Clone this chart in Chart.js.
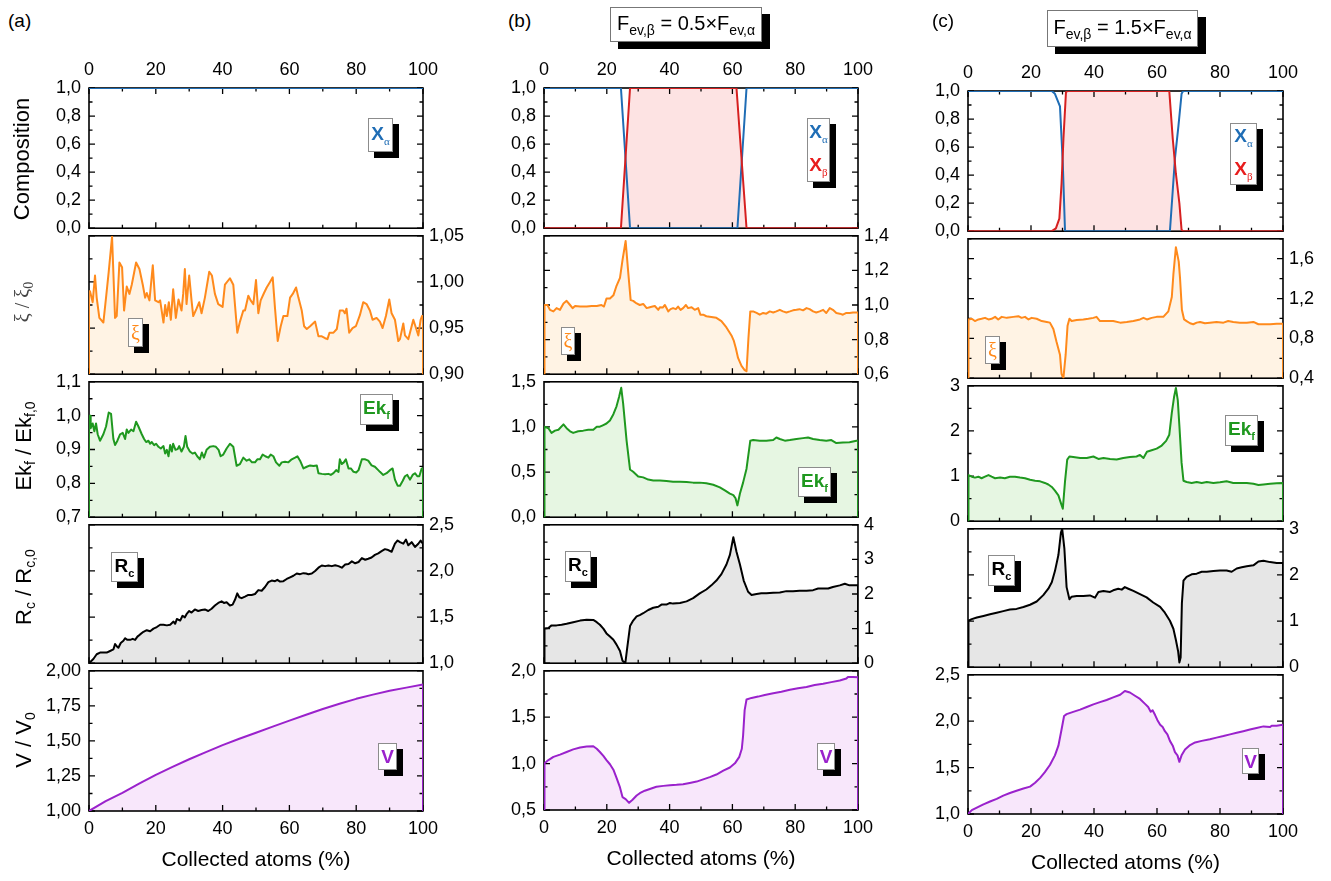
<!DOCTYPE html>
<html>
<head>
<meta charset="utf-8">
<script src="https://cdn.jsdelivr.net/npm/chart.js@4.4.1/dist/chart.umd.min.js"></script>
<style>
  body { margin: 0; background: #fff; width: 1331px; height: 881px; position: relative; overflow: hidden;
         font-family: "Liberation Sans", Arial, sans-serif; color: #000; }
  canvas { position: absolute; }
  .pl { position: absolute; font-size: 19px; line-height: 1; }
  .yt { position: absolute; transform: translate(-50%, -50%) rotate(-90deg); white-space: nowrap; font-size: 22px; line-height: 1; }
  .yt sub { font-size: 14px; vertical-align: -4px; }
  .tb { position: absolute; background: #fff; border: 1px solid #777; box-shadow: 8px 7px 0 #000; box-sizing: border-box;
        font-size: 20px; display: flex; align-items: center; justify-content: center; white-space: nowrap; }
  .tb sub { font-size: 14px; vertical-align: -5px; line-height: 1; }
  .lg { position: absolute; background: #fff; border: 1px solid #8c8c8c; box-shadow: 6px 6px 0 #000; box-sizing: border-box;
        font-weight: bold; font-size: 19px; line-height: 1; display: flex; flex-direction: column;
        align-items: center; justify-content: center; }
  .lg sub { font-size: 11px; vertical-align: -5px; }
  .lg .gr { font-weight: normal; font-family: "Liberation Serif", serif; }
</style>
</head>
<body>
<script>
// ---------- data ----------
// column (a)
const xAlphaA = [[0,1],[100,1]];
const xiA = [[0.3,0.990],[1.1,0.978],[1.8,1.007],[2.3,0.983],[3.1,0.961],[4.3,0.956],[5.1,0.983],[5.9,1.011],[6.9,1.049],[7.8,0.961],[8.3,0.963],[9.1,1.021],[9.9,1.016],[10.5,0.969],[11.3,0.995],[12.1,0.987],[12.8,0.997],[14.1,1.021],[15.1,1.014],[16.1,0.997],[16.8,0.983],[17.3,0.988],[18.1,0.980],[19.1,1.018],[19.8,0.980],[20.8,0.978],[21.3,0.980],[22.3,0.956],[22.8,0.975],[23.3,0.963],[23.9,0.978],[24.5,0.959],[25.2,0.992],[26.0,0.961],[26.8,0.981],[27.7,0.969],[28.2,0.987],[28.7,1.014],[29.2,0.976],[30.0,1.007],[30.7,0.980],[31.2,0.963],[32.2,0.971],[33.0,0.978],[33.7,0.966],[34.7,0.983],[36.0,1.011],[36.8,1.007],[37.7,0.987],[38.7,0.976],[40.0,0.973],[40.7,0.997],[42.2,1.004],[43.2,0.997],[44.4,0.945],[45.2,0.957],[46.2,0.969],[46.7,0.969],[47.7,0.985],[48.4,0.980],[49.2,0.976],[50.0,1.002],[50.7,0.966],[51.4,0.980],[52.4,0.988],[53.2,0.994],[54.2,1.000],[55.0,1.005],[55.7,0.971],[56.5,0.936],[57.4,0.952],[58.2,0.963],[59.4,0.963],[60.2,0.983],[61.0,0.987],[62.0,0.994],[62.7,0.983],[63.7,0.969],[64.4,0.952],[65.2,0.949],[66.2,0.952],[67.7,0.957],[68.7,0.941],[69.7,0.941],[70.7,0.939],[71.4,0.938],[72.0,0.945],[73.2,0.945],[74.2,0.949],[75.1,0.969],[76.1,0.969],[76.6,0.966],[77.1,0.971],[77.9,0.945],[78.9,0.950],[79.9,0.952],[81.1,0.964],[82.1,0.978],[83.1,0.976],[84.1,0.969],[84.9,0.959],[86.1,0.961],[87.1,0.957],[87.9,0.950],[88.9,0.963],[89.9,0.981],[90.6,0.966],[91.6,0.959],[92.6,0.936],[93.1,0.938],[94.1,0.955],[94.6,0.942],[95.6,0.938],[97.1,0.959],[97.9,0.950],[98.6,0.942],[99.3,0.959],[99.7,0.963]];
const ekA = [[0.3,1.000],[0.5,0.963],[1.1,0.977],[1.6,0.954],[2.1,0.977],[2.6,0.945],[3.3,0.926],[4.3,0.945],[5.1,0.968],[5.9,1.009],[6.6,1.005],[7.3,0.931],[7.8,0.913],[8.5,0.926],[9.3,0.945],[10.1,0.949],[10.8,0.931],[11.3,0.959],[11.8,0.949],[12.6,0.959],[13.3,0.954],[14.1,0.982],[14.8,0.968],[15.8,0.945],[16.5,0.931],[17.1,0.922],[17.8,0.926],[18.3,0.917],[18.8,0.922],[19.5,0.913],[20.1,0.917],[20.8,0.908],[21.5,0.903],[22.3,0.910],[22.8,0.888],[23.3,0.899],[23.8,0.880],[24.3,0.913],[24.8,0.894],[25.2,0.917],[25.9,0.899],[26.5,0.901],[27.0,0.910],[27.7,0.894],[28.4,0.908],[28.9,0.940],[29.4,0.908],[30.2,0.894],[31.0,0.888],[31.7,0.891],[32.4,0.880],[33.2,0.871],[33.8,0.891],[34.4,0.876],[35.2,0.899],[36.2,0.908],[37.2,0.910],[38.0,0.908],[38.8,0.899],[39.4,0.880],[40.2,0.885],[41.2,0.903],[42.2,0.917],[43.2,0.908],[44.2,0.852],[45.2,0.857],[46.2,0.876],[47.2,0.867],[48.0,0.871],[48.8,0.862],[49.7,0.862],[50.4,0.871],[51.2,0.871],[52.0,0.885],[52.8,0.880],[53.7,0.876],[54.4,0.885],[55.2,0.880],[56.0,0.862],[57.0,0.852],[57.7,0.862],[58.7,0.864],[59.7,0.862],[60.7,0.871],[61.7,0.876],[62.4,0.880],[63.2,0.867],[64.2,0.844],[65.2,0.849],[66.2,0.853],[67.2,0.851],[68.2,0.853],[68.7,0.830],[69.7,0.828],[70.7,0.827],[71.7,0.828],[72.4,0.825],[73.2,0.830],[74.0,0.839],[74.7,0.834],[75.1,0.871],[75.7,0.857],[76.3,0.862],[76.9,0.871],[77.7,0.844],[78.4,0.844],[79.2,0.834],[80.0,0.832],[80.7,0.839],[81.7,0.871],[82.7,0.871],[83.6,0.867],[84.6,0.853],[85.6,0.849],[86.6,0.839],[87.1,0.834],[88.1,0.825],[89.1,0.830],[90.1,0.839],[90.9,0.844],[91.6,0.811],[92.4,0.793],[93.1,0.793],[93.9,0.807],[94.6,0.821],[95.3,0.825],[96.1,0.811],[96.9,0.825],[97.6,0.830],[98.3,0.821],[98.9,0.821],[99.6,0.844]];
const rcA = [[0.3,1.010],[1.3,1.045],[2.3,1.097],[3.3,1.115],[5.3,1.115],[6.3,1.132],[7.3,1.149],[7.8,1.208],[8.3,1.184],[8.8,1.167],[9.5,1.219],[10.3,1.243],[10.8,1.271],[11.5,1.253],[12.3,1.253],[13.1,1.264],[13.8,1.253],[14.5,1.288],[15.3,1.312],[16.3,1.340],[17.3,1.358],[18.3,1.347],[19.3,1.375],[20.3,1.392],[21.3,1.417],[22.3,1.417],[23.3,1.410],[24.3,1.417],[25.3,1.451],[25.8,1.427],[26.3,1.479],[27.3,1.462],[28.0,1.514],[28.7,1.497],[29.2,1.531],[30.0,1.566],[30.7,1.549],[31.7,1.583],[32.7,1.566],[33.7,1.576],[34.7,1.583],[35.7,1.566],[36.7,1.590],[37.7,1.625],[38.7,1.653],[39.7,1.670],[40.4,1.653],[41.2,1.660],[42.2,1.625],[43.0,1.635],[43.7,1.687],[44.4,1.757],[45.0,1.715],[45.7,1.705],[46.7,1.722],[47.7,1.740],[48.7,1.740],[49.7,1.750],[50.7,1.792],[51.7,1.785],[52.7,1.826],[53.7,1.878],[54.7,1.896],[55.7,1.889],[56.4,1.903],[57.2,1.885],[58.2,1.889],[59.2,1.913],[60.2,1.931],[61.2,1.948],[62.2,1.972],[63.2,1.965],[64.2,1.976],[65.0,1.972],[65.7,1.965],[66.7,1.972],[67.7,2.000],[68.7,2.035],[69.7,2.059],[70.7,2.052],[71.7,2.059],[72.7,2.052],[73.7,2.062],[74.7,2.052],[75.7,2.035],[76.7,2.069],[77.7,2.076],[78.7,2.104],[79.7,2.083],[80.7,2.097],[81.7,2.139],[82.7,2.121],[83.6,2.132],[84.6,2.146],[85.6,2.174],[86.6,2.191],[87.6,2.215],[88.6,2.236],[89.6,2.226],[90.6,2.208],[91.6,2.295],[92.4,2.330],[93.1,2.312],[94.1,2.295],[94.9,2.340],[95.6,2.278],[96.6,2.312],[97.6,2.260],[98.6,2.295],[99.3,2.330],[99.7,2.306]];
const vA = [[0,1.000],[5,1.070],[10,1.130],[15,1.195],[20,1.258],[25,1.315],[30,1.369],[35,1.420],[40,1.470],[45,1.515],[50,1.558],[55,1.602],[60,1.645],[65,1.687],[70,1.728],[75,1.765],[80,1.800],[85,1.830],[90,1.857],[95,1.880],[100,1.903]];

// column (b)
const xAlphaB = [[0,1],[24.5,1],[27.4,0],[61.6,0],[64.5,1],[100,1]];
const xBetaB = [[0,0],[24.5,0],[27.4,1],[61.3,1],[64.5,0],[100,0]];
const xiB = [[0.3,1.000],[1.1,1.000],[1.9,0.972],[3.0,0.963],[4.0,0.982],[5.1,0.972],[6.2,1.009],[7.2,1.024],[8.3,1.000],[9.1,0.982],[9.9,0.994],[11.5,0.991],[13.6,0.991],[15.2,0.994],[16.8,0.994],[18.3,1.000],[19.1,0.991],[19.9,1.037],[21.0,1.037],[22.1,1.056],[23.1,1.111],[24.2,1.157],[25.0,1.259],[26.0,1.370],[26.8,1.194],[27.6,1.028],[28.4,1.024],[29.5,1.009],[30.5,1.000],[31.6,1.006],[32.7,0.982],[33.7,0.987],[34.6,0.991],[35.3,0.994],[36.4,0.972],[36.9,0.987],[37.8,0.985],[38.5,1.000],[39.6,0.963],[40.3,0.976],[41.1,0.982],[42.0,0.976],[42.7,0.991],[43.5,0.972],[44.3,0.982],[45.2,1.000],[45.9,0.982],[47.0,0.987],[48.0,0.972],[49.1,0.982],[49.8,0.944],[50.7,0.944],[51.7,0.935],[53.3,0.931],[54.9,0.926],[56.5,0.907],[58.1,0.870],[59.7,0.824],[60.4,0.796],[61.1,0.750],[61.8,0.694],[62.9,0.648],[63.9,0.624],[64.5,0.617],[65.1,0.806],[65.7,0.963],[66.6,0.963],[67.7,0.954],[68.7,0.944],[69.8,0.954],[70.8,0.950],[71.9,0.963],[73.0,0.957],[74.0,0.963],[75.1,0.972],[76.1,0.963],[77.2,0.957],[78.3,0.963],[79.3,0.969],[80.4,0.972],[81.4,0.976],[82.5,0.969],[83.6,0.982],[84.6,0.976],[85.7,0.963],[86.7,0.957],[87.8,0.963],[88.9,0.972],[89.9,0.954],[91.0,0.982],[92.0,0.972],[93.1,0.954],[94.2,0.950],[95.2,0.944],[96.3,0.954],[97.3,0.954],[98.4,0.957],[100,0.957]];
const ekB = [[0.3,1.003],[1.4,0.986],[2.4,0.934],[3.5,0.959],[4.6,0.969],[6.2,1.028],[7.2,0.986],[8.3,0.952],[9.3,0.934],[10.9,0.952],[12.5,0.959],[14.1,0.969],[15.7,0.969],[16.8,1.003],[17.8,1.003],[18.9,1.021],[19.9,1.038],[21.0,1.072],[22.1,1.141],[23.1,1.228],[23.9,1.331],[24.6,1.434],[25.2,1.262],[26.3,0.848],[27.4,0.528],[28.4,0.503],[30.0,0.452],[31.6,0.441],[33.2,0.417],[34.8,0.407],[36.9,0.407],[39.0,0.400],[41.1,0.393],[43.3,0.393],[45.4,0.390],[47.5,0.383],[49.6,0.383],[51.7,0.376],[53.9,0.359],[56.0,0.331],[57.6,0.297],[59.2,0.262],[60.3,0.245],[61.0,0.210],[61.6,0.131],[62.4,0.262],[63.4,0.383],[64.5,0.538],[65.7,0.848],[66.6,0.855],[68.7,0.848],[70.8,0.848],[73.0,0.855],[74.0,0.883],[75.1,0.866],[76.7,0.848],[78.3,0.855],[80.4,0.866],[82.5,0.876],[84.1,0.883],[85.7,0.866],[87.8,0.855],[89.9,0.848],[91.5,0.855],[93.1,0.821],[95.2,0.828],[97.3,0.831],[99.5,0.848]];
const rcB = [[0.3,1.000],[1.4,1.019],[2.4,1.093],[4.0,1.093],[5.6,1.111],[7.2,1.139],[9.3,1.185],[11.5,1.231],[13.6,1.259],[15.7,1.250],[16.8,1.185],[17.8,1.111],[18.9,1.000],[19.9,0.861],[21.0,0.769],[22.1,0.676],[23.1,0.537],[24.2,0.352],[25.0,0.074],[25.9,0.000],[26.5,0.444],[27.4,1.074],[28.4,1.231],[29.5,1.352],[30.5,1.389],[31.6,1.444],[33.2,1.537],[34.8,1.602],[36.4,1.630],[37.4,1.694],[39.0,1.694],[40.1,1.741],[41.1,1.722],[43.3,1.741],[45.4,1.787],[47.5,1.880],[49.6,2.019],[51.7,2.130],[53.3,2.250],[54.9,2.389],[56.5,2.574],[58.1,2.852],[59.2,3.130],[60.3,3.639],[61.3,3.222],[62.4,2.852],[63.6,2.389],[65.0,2.065],[66.1,1.972],[67.7,2.000],[69.2,2.019],[70.8,2.019],[73.0,2.037],[75.1,2.046],[77.2,2.083],[79.3,2.083],[81.4,2.093],[83.6,2.093],[85.7,2.111],[87.3,2.157],[88.9,2.157],[90.5,2.157],[92.0,2.204],[94.2,2.250],[95.8,2.296],[97.3,2.250],[100,2.250]];
const vB = [[0.3,1.003],[1.4,1.038],[3.0,1.073],[5.1,1.097],[7.2,1.125],[9.3,1.153],[11.5,1.174],[13.6,1.184],[15.7,1.187],[16.8,1.160],[17.8,1.125],[18.9,1.083],[19.9,1.038],[21.0,0.993],[22.1,0.934],[23.1,0.847],[24.2,0.743],[25.0,0.639],[26.0,0.618],[27.1,0.577],[28.2,0.611],[29.5,0.656],[30.5,0.681],[32.1,0.708],[33.7,0.726],[35.8,0.750],[38.0,0.760],[40.1,0.767],[42.2,0.771],[44.3,0.778],[46.4,0.792],[48.6,0.806],[50.7,0.830],[52.8,0.854],[54.9,0.882],[57.1,0.924],[59.2,0.958],[60.8,1.003],[62.2,1.073],[63.0,1.160],[63.4,1.299],[63.9,1.576],[64.5,1.691],[66.1,1.708],[68.2,1.722],[70.3,1.740],[73.0,1.757],[75.6,1.774],[78.3,1.795],[80.9,1.813],[83.6,1.826],[86.2,1.847],[88.9,1.861],[91.5,1.878],[94.2,1.896],[96.3,1.917],[96.8,1.934],[98.4,1.934],[100,1.931]];

// column (c)
const xAlphaC = [[0,1],[26.6,1],[27.6,0.98],[29.2,0.89],[30.1,0.48],[30.8,0],[64.1,0],[65.0,0.29],[65.7,0.52],[66.8,0.75],[67.8,0.98],[68.3,1],[100,1]];
const xBetaC = [[0,0],[26.6,0],[27.9,0.02],[29.0,0.09],[29.7,0.34],[30.3,0.66],[31.1,0.99],[31.5,1],[63.9,1],[65.0,0.66],[66.0,0.41],[67.1,0.20],[67.8,0.01],[68.3,0],[100,0]];
const xiC = [[0.3,0.990],[1.2,0.997],[2.2,0.974],[3.3,0.990],[4.3,0.997],[5.4,1.006],[6.5,0.990],[7.5,0.997],[8.6,1.016],[9.6,0.990],[10.7,1.016],[12.3,1.006],[14.4,1.016],[16.0,1.023],[17.0,1.006],[18.1,1.016],[19.2,0.990],[20.2,1.006],[21.8,0.997],[23.4,0.974],[25.0,0.965],[26.0,0.958],[27.1,0.894],[28.1,0.765],[29.2,0.636],[29.7,0.442],[30.3,0.403],[31.0,0.636],[31.6,0.926],[32.2,0.997],[32.9,0.974],[34.5,0.984],[36.6,0.990],[38.2,0.997],[39.8,1.006],[40.8,1.016],[41.9,0.974],[44.0,0.974],[46.1,0.974],[48.3,0.958],[50.4,0.965],[52.5,0.974],[54.6,0.990],[55.7,1.006],[56.8,0.990],[58.3,1.006],[59.9,1.016],[62.0,1.016],[63.6,1.071],[64.7,1.216],[65.2,1.442],[66.0,1.716],[66.9,1.571],[67.3,1.410],[67.9,1.087],[68.6,0.990],[69.4,0.974],[70.5,0.952],[71.5,0.942],[72.6,0.958],[73.7,0.965],[75.2,0.952],[76.8,0.958],[78.9,0.965],[81.1,0.958],[82.6,0.974],[84.2,0.965],[86.3,0.958],[88.5,0.958],[90.6,0.965],[92.2,0.942],[93.8,0.942],[95.9,0.942],[98.0,0.948],[99.9,0.948]];
const ekC = [[0.3,1.021],[1.2,0.986],[2.2,0.966],[3.3,0.986],[4.3,0.952],[5.4,0.986],[6.5,1.021],[7.5,0.986],[8.6,0.952],[10.2,0.966],[11.7,0.952],[13.3,0.986],[14.9,0.986],[16.5,0.966],[18.1,0.952],[19.7,0.917],[21.3,0.897],[22.9,0.883],[24.4,0.848],[25.5,0.814],[26.6,0.759],[27.6,0.676],[28.7,0.572],[29.5,0.400],[30.1,0.276],[30.8,0.883],[31.5,1.366],[32.2,1.434],[33.4,1.421],[35.6,1.400],[37.7,1.400],[39.8,1.434],[41.4,1.379],[43.0,1.400],[45.1,1.379],[47.2,1.366],[49.3,1.400],[51.4,1.421],[53.5,1.434],[54.6,1.469],[55.7,1.400],[56.8,1.538],[58.3,1.572],[59.9,1.607],[61.5,1.676],[62.9,1.779],[63.9,1.917],[64.7,2.400],[65.4,2.745],[66.0,2.952],[66.6,2.676],[67.1,2.124],[67.8,1.297],[68.4,0.897],[69.4,0.869],[71.0,0.848],[72.6,0.869],[74.2,0.848],[75.8,0.869],[77.9,0.848],[80.0,0.862],[82.1,0.883],[84.2,0.848],[86.3,0.848],[88.5,0.848],[90.6,0.828],[92.2,0.800],[93.8,0.814],[95.9,0.828],[98.0,0.841],[99.9,0.848]];
const rcC = [[0.3,1.007],[1.2,1.042],[2.8,1.076],[4.9,1.111],[7.0,1.146],[9.1,1.181],[11.2,1.215],[13.3,1.250],[15.4,1.264],[17.6,1.306],[19.7,1.354],[21.8,1.424],[23.9,1.562],[25.5,1.701],[26.6,1.840],[27.6,2.083],[28.7,2.431],[29.5,2.917],[29.9,3.000],[30.6,2.569],[31.3,1.736],[32.2,1.472],[32.9,1.528],[34.5,1.542],[36.6,1.542],[38.7,1.556],[40.3,1.507],[41.4,1.632],[43.0,1.653],[45.1,1.632],[46.1,1.667],[47.7,1.701],[48.8,1.681],[49.8,1.736],[50.9,1.701],[52.5,1.653],[54.6,1.583],[56.7,1.514],[58.8,1.403],[61.0,1.306],[62.5,1.181],[64.1,1.007],[65.2,0.833],[66.0,0.590],[66.7,0.347],[67.1,0.104],[67.5,0.208],[67.9,1.389],[68.4,1.875],[69.4,1.958],[71.0,2.014],[72.6,2.028],[74.2,2.069],[75.8,2.069],[77.9,2.083],[80.0,2.097],[82.1,2.097],[83.7,2.069],[85.3,2.139],[86.9,2.167],[88.5,2.188],[90.6,2.208],[92.2,2.292],[93.8,2.306],[95.9,2.278],[98.0,2.257],[99.9,2.257]];
const vC = [[0,1.000],[1.2,1.042],[2.8,1.069],[4.9,1.104],[7.0,1.135],[9.1,1.163],[11.2,1.198],[13.3,1.226],[15.4,1.250],[17.6,1.274],[19.7,1.295],[21.3,1.337],[22.9,1.389],[24.4,1.451],[26.0,1.528],[27.6,1.632],[28.7,1.736],[29.7,1.910],[30.5,2.056],[31.3,2.076],[33.4,2.101],[35.6,2.125],[37.7,2.153],[39.8,2.181],[41.9,2.205],[44.0,2.229],[46.1,2.257],[48.3,2.285],[49.8,2.326],[51.4,2.309],[53.0,2.274],[54.6,2.240],[56.2,2.187],[57.2,2.153],[58.0,2.101],[58.6,2.118],[59.4,2.066],[60.1,2.014],[61.0,1.962],[61.8,1.937],[62.5,1.892],[63.3,1.858],[64.1,1.788],[65.0,1.736],[65.7,1.667],[66.5,1.632],[67.1,1.562],[67.8,1.632],[68.9,1.694],[70.5,1.743],[72.1,1.771],[74.2,1.788],[76.8,1.806],[78.9,1.823],[81.1,1.840],[83.2,1.858],[85.3,1.875],[87.4,1.892],[89.5,1.910],[91.6,1.927],[93.8,1.944],[95.9,1.937],[96.4,1.951],[98.0,1.951],[99.9,1.962]];

// y axes of each panel (top to bottom), per column
const compAxis = {min: 0, max: 1, major: 0.2, minor: 0.1, side: 'left', dec: 1};
const axesA = [compAxis,
  {min: 0.9, max: 1.05, major: 0.05, minor: 0.025, side: 'right', dec: 2},
  {min: 0.7, max: 1.1, major: 0.1, minor: 0.05, side: 'left', dec: 1},
  {min: 1.0, max: 2.5, major: 0.5, minor: 0.25, side: 'right', dec: 1},
  {min: 1.0, max: 2.0, major: 0.25, minor: 0.125, side: 'left', dec: 2}];
const axesB = [compAxis,
  {min: 0.6, max: 1.4, major: 0.2, minor: 0.1, side: 'right', dec: 1},
  {min: 0, max: 1.5, major: 0.5, minor: 0.25, side: 'left', dec: 1},
  {min: 0, max: 4, major: 1, minor: 0.5, side: 'right', dec: 0},
  {min: 0.5, max: 2.0, major: 0.5, minor: 0.25, side: 'left', dec: 1}];
const axesC = [compAxis,
  {min: 0.4, max: 1.8, major: 0.4, minor: 0.2, side: 'right', dec: 1},
  {min: 0, max: 3, major: 1, minor: 0.5, side: 'left', dec: 0},
  {min: 0, max: 3, major: 1, minor: 0.5, side: 'right', dec: 0},
  {min: 1.0, max: 2.5, major: 0.5, minor: 0.25, side: 'left', dec: 1}];

const BLUE = '#1f6db5', RED = '#d62020', ORANGE = '#ff8a1c', GREEN = '#1f981f', BLACK = '#000', PURPLE = '#9a22cc';
const PINK_F = '#fde3e3', ORANGE_F = '#fff3e4', GREEN_F = '#e6f6e2', GRAY_F = '#e6e6e6', PURPLE_F = '#f8e7fb';

const seriesA = [
  [{d: xAlphaA, c: BLUE}],
  [{d: xiA, c: ORANGE, f: ORANGE_F, edge: true}],
  [{d: ekA, c: GREEN, f: GREEN_F, edge: true}],
  [{d: rcA, c: BLACK, f: GRAY_F, edge: true}],
  [{d: vA, c: PURPLE, f: PURPLE_F, edge: true}]];
const seriesB = [
  [{d: xBetaB, c: RED, f: PINK_F}, {d: xAlphaB, c: BLUE}],
  [{d: xiB, c: ORANGE, f: ORANGE_F, edge: true}],
  [{d: ekB, c: GREEN, f: GREEN_F, edge: true}],
  [{d: rcB, c: BLACK, f: GRAY_F, edge: true}],
  [{d: vB, c: PURPLE, f: PURPLE_F, edge: true}]];
const seriesC = [
  [{d: xBetaC, c: RED, f: PINK_F}, {d: xAlphaC, c: BLUE}],
  [{d: xiC, c: ORANGE, f: ORANGE_F, edge: true}],
  [{d: ekC, c: GREEN, f: GREEN_F, edge: true}],
  [{d: rcC, c: BLACK, f: GRAY_F, edge: true}],
  [{d: vC, c: PURPLE, f: PURPLE_F, edge: true}]];

// plot boxes of the three columns (left, width, panel edges top to bottom)
const columns = [
  {left: 89, width: 334, edges: [88, 233, 377, 522, 666, 811], axes: axesA, series: seriesA},
  {left: 544, width: 314, edges: [88, 233, 377, 522, 666, 810], axes: axesB, series: seriesB},
  {left: 968, width: 315, edges: [91, 236, 381, 526, 670, 814], axes: axesC, series: seriesC}
];

const FONT = '"Liberation Sans", Arial, sans-serif';
const LEFT_W = 89, RIGHT_W = 60;

// frame + inward ticks on every side, drawn over the fills but under the lines
function frameTicks(ax, topTicks) {
  return {
    id: 'frameTicks',
    beforeDatasetsDraw(chart) {
      const {ctx, chartArea: a} = chart;
      const x = chart.scales.x, y = chart.scales.y;
      ctx.save();
      ctx.strokeStyle = '#000';
      ctx.lineWidth = 1.6;
      ctx.strokeRect(a.left, a.top, a.right - a.left, a.bottom - a.top);
      ctx.lineWidth = 1.3;
      ctx.beginPath();
      for (let v = 0; v <= 100; v += 10) {
        const px = x.getPixelForValue(v);
        const len = v % 20 === 0 ? 6 : 3.5;
        ctx.moveTo(px, a.bottom); ctx.lineTo(px, a.bottom - len);
        if (topTicks) { ctx.moveTo(px, a.top); ctx.lineTo(px, a.top + len); }
      }
      const n = Math.round((ax.max - ax.min) / ax.minor);
      for (let i = 0; i <= n; i++) {
        const py = y.getPixelForValue(ax.min + i * ax.minor);
        const len = i % 2 === 0 ? 6 : 3.5;
        ctx.moveTo(a.left, py); ctx.lineTo(a.left + len, py);
        ctx.moveTo(a.right, py); ctx.lineTo(a.right - len, py);
      }
      ctx.stroke();
      ctx.restore();
    }
  };
}

function toPoints(s, ax) {
  let pts = s.d;
  if (s.edge) {
    // the curves are closed down to the axis at both ends, as in the original
    pts = [[0, ax.min], [0, pts[0][1]], ...pts, [100, pts[pts.length - 1][1]], [100, ax.min]];
  }
  return pts.map(p => ({x: p[0], y: p[1]}));
}

columns.forEach(col => {
  for (let r = 0; r < 5; r++) {
    const ax = col.axes[r];
    const top = col.edges[r], bottom = col.edges[r + 1];
    const padT = r === 0 ? 45 : 14, padB = r === 4 ? 70 : 14;
    const showX = r === 0 || r === 4;
    const cv = document.createElement('canvas');
    cv.width = LEFT_W + col.width + RIGHT_W;
    cv.height = padT + (bottom - top) + padB;
    cv.style.left = (col.left - LEFT_W) + 'px';
    cv.style.top = (top - padT) + 'px';
    document.body.appendChild(cv);

    const majors = [];
    for (let v = ax.min; v <= ax.max + 1e-9; v += ax.major) majors.push(+v.toFixed(4));

    const datasets = col.series[r].map(s => ({
      data: toPoints(s, ax),
      borderColor: s.c,
      borderWidth: 2,
      borderJoinStyle: 'round',
      backgroundColor: s.f || 'transparent',
      fill: s.f ? 'start' : false,
      pointRadius: 0,
      tension: 0
    }));

    new Chart(cv.getContext('2d'), {
      type: 'line',
      data: {datasets},
      options: {
        responsive: false,
        animation: false,
        devicePixelRatio: 1,
        events: [],
        layout: {padding: {
          top: r === 0 ? 0 : 14,
          bottom: r === 4 ? 0 : 14,
          left: ax.side === 'right' ? LEFT_W : 0,
          right: ax.side === 'left' ? RIGHT_W : 0
        }},
        plugins: {
          legend: {display: false},
          tooltip: {enabled: false},
          filler: {drawTime: 'beforeDatasetsDraw'}
        },
        scales: {
          x: {
            type: 'linear', min: 0, max: 100,
            display: showX,
            position: r === 0 ? 'top' : 'bottom',
            grid: {display: false, drawTicks: false},
            border: {display: false},
            ticks: {stepSize: 20, maxRotation: 0, autoSkip: false, padding: 7,
                    color: '#000', font: {family: FONT, size: 18}},
            title: {display: r === 4, text: 'Collected atoms (%)', color: '#000',
                    font: {family: FONT, size: 21}, padding: {top: 0, bottom: 8}},
            afterFit(s) { s.height = !showX ? 0 : (r === 0 ? 45 : 70); }
          },
          y: {
            type: 'linear', min: ax.min, max: ax.max,
            position: ax.side,
            grid: {display: false, drawTicks: false},
            border: {display: false},
            afterBuildTicks(s) { s.ticks = majors.map(v => ({value: v})); },
            ticks: {autoSkip: false, padding: ax.side === 'left' ? 8 : 6, color: '#000',
                    font: {family: FONT, size: 18},
                    callback: v => Number(v).toFixed(ax.dec).replace('.', ',')},
            afterFit(s) { s.width = ax.side === 'left' ? LEFT_W : RIGHT_W; }
          }
        }
      },
      plugins: [frameTicks(ax, r === 0)]
    });
  }
});
</script>

<!-- panel letters and condition boxes -->
<div class="pl" style="left:8px;top:11px">(a)</div>
<div class="pl" style="left:508px;top:11px">(b)</div>
<div class="pl" style="left:932px;top:11px">(c)</div>
<div class="tb" style="left:610px;top:7px;width:152px;height:35px"><span>F<sub>ev,β</sub> = 0.5×F<sub>ev,α</sub></span></div>
<div class="tb" style="left:1047px;top:10px;width:151px;height:37px"><span>F<sub>ev,β</sub> = 1.5×F<sub>ev,α</sub></span></div>

<!-- y titles of column (a) -->
<div class="yt" style="left:22px;top:159px">Composition</div>
<div class="yt" style="left:24px;top:302px;font-family:'Liberation Serif',serif;font-size:20px;color:#444">ξ / ξ<sub>0</sub></div>
<div class="yt" style="left:25px;top:446px">Ek<sub>f</sub> / Ek<sub>f,0</sub></div>
<div class="yt" style="left:25px;top:587px">R<sub>c</sub> / R<sub>c,0</sub></div>
<div class="yt" style="left:25px;top:740px">V / V<sub>0</sub></div>

<!-- legend boxes, column (a) -->
<div class="lg" style="left:368px;top:118px;width:25px;height:34px;color:#1f6db5">
  <span>X<sub class="gr">α</sub></span></div>
<div class="lg" style="left:128px;top:318px;width:15px;height:29px;color:#ff8a1c"><span class="gr" style="font-size:20px">ξ</span></div>
<div class="lg" style="left:360px;top:394px;width:33px;height:31px;color:#1f981f"><span>Ek<sub>f</sub></span></div>
<div class="lg" style="left:111px;top:552px;width:27px;height:30px;color:#000"><span>R<sub>c</sub></span></div>
<div class="lg" style="left:378px;top:743px;width:19px;height:27px;color:#9a22cc"><span>V</span></div>

<!-- legend boxes, column (b) -->
<div class="lg" style="left:807px;top:118px;width:23px;height:64px">
  <span style="color:#1f6db5">X<sub class="gr">α</sub></span>
  <span style="color:#e81c1c;margin-top:10px">X<sub class="gr">β</sub></span></div>
<div class="lg" style="left:561px;top:327px;width:14px;height:28px;color:#ff8a1c"><span class="gr" style="font-size:20px">ξ</span></div>
<div class="lg" style="left:798px;top:467px;width:33px;height:30px;color:#1f981f"><span>Ek<sub>f</sub></span></div>
<div class="lg" style="left:565px;top:551px;width:26px;height:31px;color:#000"><span>R<sub>c</sub></span></div>
<div class="lg" style="left:817px;top:743px;width:18px;height:27px;color:#9a22cc"><span>V</span></div>

<!-- legend boxes, column (c) -->
<div class="lg" style="left:1230px;top:123px;width:27px;height:62px">
  <span style="color:#1f6db5">X<sub class="gr">α</sub></span>
  <span style="color:#e81c1c;margin-top:10px">X<sub class="gr">β</sub></span></div>
<div class="lg" style="left:985px;top:336px;width:15px;height:28px;color:#ff8a1c"><span class="gr" style="font-size:20px">ξ</span></div>
<div class="lg" style="left:1225px;top:415px;width:33px;height:31px;color:#1f981f"><span>Ek<sub>f</sub></span></div>
<div class="lg" style="left:988px;top:555px;width:27px;height:31px;color:#000"><span>R<sub>c</sub></span></div>
<div class="lg" style="left:1242px;top:748px;width:17px;height:26px;color:#9a22cc"><span>V</span></div>
</body>
</html>
